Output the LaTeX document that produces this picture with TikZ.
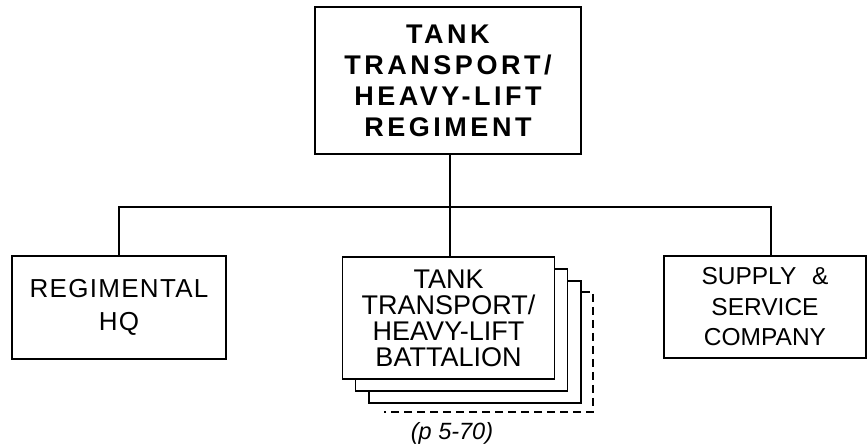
\documentclass[tikz,border=0pt]{standalone}
\usepackage{fontspec}
\setmainfont{Liberation Sans}
\begin{document}
\begin{tikzpicture}[x=1pt,y=-1pt,
  box/.style={draw, line width=1.8pt, fill=white, inner sep=0pt, align=center},
  conn/.style={line width=1.8pt},
  dashline/.style={line width=1.1pt, dash pattern=on 8pt off 5pt}]
\useasboundingbox (0,0) rectangle (867,447);
% top box
\node[box, minimum width=266pt, minimum height=147pt,
  font=\bfseries\addfontfeature{LetterSpace=13}\fontsize{27}{31}\selectfont] (top) at (448,80.5)
  {TANK\\TRANSPORT/\\HEAVY-LIFT\\REGIMENT};
% bus
\coordinate (bus) at (450,207);
% left
\node[box, minimum width=214pt, minimum height=103pt,
  font=\addfontfeature{LetterSpace=5}\fontsize{26}{33}\selectfont] (hq) at (119,307.5)
  {REGIMENTAL\\HQ};
% right
\node[box, minimum width=202pt, minimum height=102pt,
  font=\fontsize{24.5}{30.5}\selectfont] (ssc) at (765,307)
  {SUPPLY\hspace{9pt} \&\\SERVICE\\COMPANY};
% battalion stack
\coordinate (dne) at (593,292);
\coordinate (dsw) at (384,412);
\node[box, minimum width=212pt, minimum height=122pt] (b3) at (475,342) {};
\draw[dashline] (b3.east |- dne) -- (dne) -- (dne |- dsw) -- (dsw);
\node[box, minimum width=212pt, minimum height=122pt] (b2) at (461.5,330) {};
\node[box, minimum width=212pt, minimum height=122pt,
  font=\fontsize{27}{26}\selectfont] (bn) at (448.5,318)
  {TANK\\TRANSPORT/\\HEAVY-LIFT\\BATTALION};
% connectors
\draw[conn] (top.south -| bus) -- (bus);
\draw[conn] (hq.north) |- (bus);
\draw[conn] (bus) -| ([xshift=6pt]ssc.north);
\draw[conn] (bus) -- (bus |- bn.north);
% reference
\node[font=\itshape\fontsize{23.5}{23.5}\selectfont] (ref) at (452,433) {(p 5-70)};
\end{tikzpicture}
\end{document}
